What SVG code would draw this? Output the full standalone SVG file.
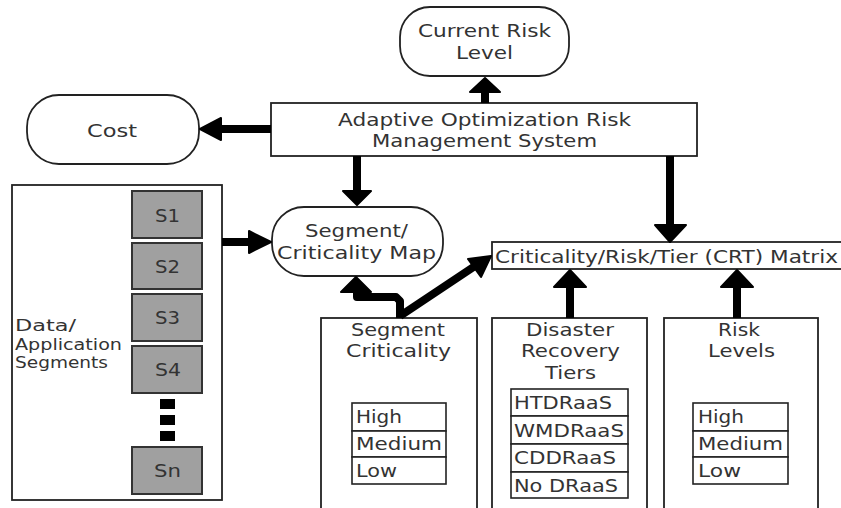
<svg xmlns="http://www.w3.org/2000/svg" width="841" height="508" viewBox="0 0 841 508">
<defs>
<style>
.t{font-family:"DejaVu Sans","Open Sans",sans-serif;font-size:17.5px;fill:#333;}
.s{font-size:16.5px;}
.box{fill:#fff;stroke:#222;stroke-width:1.8;}
.seg{fill:#a0a0a0;stroke:#333;stroke-width:2;}
.cell{fill:#fff;stroke:#222;stroke-width:1.6;}
.ln{fill:none;stroke:#000;stroke-width:8;}
.hd{fill:#000;stroke:#000;stroke-width:2;stroke-linejoin:round;}
</style>
</defs>
<rect width="841" height="508" fill="#fff"/>

<g id="current-risk">
<rect class="box" x="400" y="7" width="169" height="69" rx="30"/>
<text class="t" x="418" y="37" textLength="133" lengthAdjust="spacingAndGlyphs">Current Risk</text>
<text class="t" x="456" y="59" textLength="57" lengthAdjust="spacingAndGlyphs">Level</text>
</g>

<g id="cost">
<rect class="box" x="27" y="95" width="172" height="69" rx="32"/>
<text class="t" x="87" y="137" textLength="50" lengthAdjust="spacingAndGlyphs">Cost</text>
</g>

<g id="aorms">
<rect class="box" x="271" y="103" width="426" height="53"/>
<text class="t" x="338" y="126" textLength="293" lengthAdjust="spacingAndGlyphs">Adaptive Optimization Risk</text>
<text class="t" x="372" y="147" textLength="225" lengthAdjust="spacingAndGlyphs">Management System</text>
</g>

<g id="data-segments">
<rect class="box" x="12" y="185" width="210" height="315"/>
<text class="t s" x="15" y="331" textLength="61" lengthAdjust="spacingAndGlyphs">Data/</text>
<text class="t s" x="15" y="350" textLength="107" lengthAdjust="spacingAndGlyphs">Application</text>
<text class="t s" x="15" y="368" textLength="93" lengthAdjust="spacingAndGlyphs">Segments</text>
<rect class="seg" x="132" y="191" width="70" height="47"/>
<text class="t" x="155" y="222" textLength="25" lengthAdjust="spacingAndGlyphs">S1</text>
<rect class="seg" x="132" y="243" width="70" height="46"/>
<text class="t" x="155" y="273" textLength="25" lengthAdjust="spacingAndGlyphs">S2</text>
<rect class="seg" x="132" y="294" width="70" height="47"/>
<text class="t" x="155" y="324" textLength="25" lengthAdjust="spacingAndGlyphs">S3</text>
<rect class="seg" x="132" y="346" width="70" height="47"/>
<text class="t" x="155" y="376" textLength="26" lengthAdjust="spacingAndGlyphs">S4</text>
<rect x="160" y="399" width="15" height="10" fill="#000"/>
<rect x="160" y="415" width="15" height="10" fill="#000"/>
<rect x="160" y="431" width="15" height="10" fill="#000"/>
<rect class="seg" x="132" y="447" width="70" height="47"/>
<text class="t" x="154" y="477" textLength="27" lengthAdjust="spacingAndGlyphs">Sn</text>
</g>

<g id="segment-map">
<rect class="box" x="272" y="207" width="171" height="69" rx="32"/>
<text class="t" x="305" y="237" textLength="103" lengthAdjust="spacingAndGlyphs">Segment/</text>
<text class="t" x="277" y="259" textLength="159" lengthAdjust="spacingAndGlyphs">Criticality Map</text>
</g>

<g id="crt-matrix">
<rect class="box" x="492" y="242" width="360" height="27"/>
<text class="t" x="495" y="263" textLength="343" lengthAdjust="spacingAndGlyphs">Criticality/Risk/Tier (CRT) Matrix</text>
</g>

<g id="segment-criticality">
<rect class="box" x="321" y="318" width="156" height="200"/>
<text class="t" x="351" y="336" textLength="94" lengthAdjust="spacingAndGlyphs">Segment</text>
<text class="t" x="346" y="357" textLength="105" lengthAdjust="spacingAndGlyphs">Criticality</text>
<rect class="cell" x="352" y="403" width="94" height="28"/>
<rect class="cell" x="352" y="431" width="94" height="26"/>
<rect class="cell" x="352" y="457" width="94" height="27"/>
<text class="t" x="356" y="423" textLength="46" lengthAdjust="spacingAndGlyphs">High</text>
<text class="t" x="356" y="450" textLength="86" lengthAdjust="spacingAndGlyphs">Medium</text>
<text class="t" x="356" y="477" textLength="41" lengthAdjust="spacingAndGlyphs">Low</text>
</g>

<g id="dr-tiers">
<rect class="box" x="492" y="318" width="155" height="200"/>
<text class="t" x="526" y="336" textLength="88" lengthAdjust="spacingAndGlyphs">Disaster</text>
<text class="t" x="521" y="357" textLength="99" lengthAdjust="spacingAndGlyphs">Recovery</text>
<text class="t" x="545" y="379" textLength="51" lengthAdjust="spacingAndGlyphs">Tiers</text>
<rect class="cell" x="511" y="389" width="117" height="27"/>
<rect class="cell" x="511" y="416" width="117" height="28"/>
<rect class="cell" x="511" y="444" width="117" height="28"/>
<rect class="cell" x="511" y="472" width="117" height="26"/>
<text class="t" x="514" y="409" textLength="98" lengthAdjust="spacingAndGlyphs">HTDRaaS</text>
<text class="t" x="514" y="437" textLength="110" lengthAdjust="spacingAndGlyphs">WMDRaaS</text>
<text class="t" x="514" y="464" textLength="102" lengthAdjust="spacingAndGlyphs">CDDRaaS</text>
<text class="t" x="514" y="492" textLength="104" lengthAdjust="spacingAndGlyphs">No DRaaS</text>
</g>

<g id="risk-levels">
<rect class="box" x="664" y="318" width="154" height="200"/>
<text class="t" x="718" y="336" textLength="42" lengthAdjust="spacingAndGlyphs">Risk</text>
<text class="t" x="708" y="357" textLength="67" lengthAdjust="spacingAndGlyphs">Levels</text>
<rect class="cell" x="693" y="403" width="95" height="28"/>
<rect class="cell" x="693" y="431" width="95" height="26"/>
<rect class="cell" x="693" y="457" width="95" height="27"/>
<text class="t" x="698" y="423" textLength="46" lengthAdjust="spacingAndGlyphs">High</text>
<text class="t" x="698" y="450" textLength="85" lengthAdjust="spacingAndGlyphs">Medium</text>
<text class="t" x="698" y="477" textLength="43" lengthAdjust="spacingAndGlyphs">Low</text>
</g>

<g id="connectors">
<path class="ln" d="M485,103 V90"/>
<path class="hd" d="M485,78 L500,92 L470,92 Z"/>
<path class="ln" d="M271,129 H218"/>
<path class="hd" d="M200,129 L221,118 L221,140 Z"/>
<path class="ln" d="M357,156 V192"/>
<path class="hd" d="M357,205 L343,191 L371,191 Z"/>
<path class="ln" d="M670,156 V226"/>
<path class="hd" d="M670,242 L655,225 L686,225 Z"/>
<path class="ln" d="M222,242 H250"/>
<path class="hd" d="M271,242 L249,231 L249,253 Z"/>
<path class="ln" d="M400,318 V301 L396,297 H357 V290" stroke-linejoin="round"/>
<path class="hd" d="M356,277 L341,292 L371,292 Z"/>
<path class="ln" d="M400,316 L478,264"/>
<path class="hd" d="M491,256 L468,259 L481,277 Z"/>
<path class="ln" d="M570,318 V286"/>
<path class="hd" d="M570,270 L586,287 L554,287 Z"/>
<path class="ln" d="M737,318 V286"/>
<path class="hd" d="M737,270 L753,287 L721,287 Z"/>
</g>
</svg>
